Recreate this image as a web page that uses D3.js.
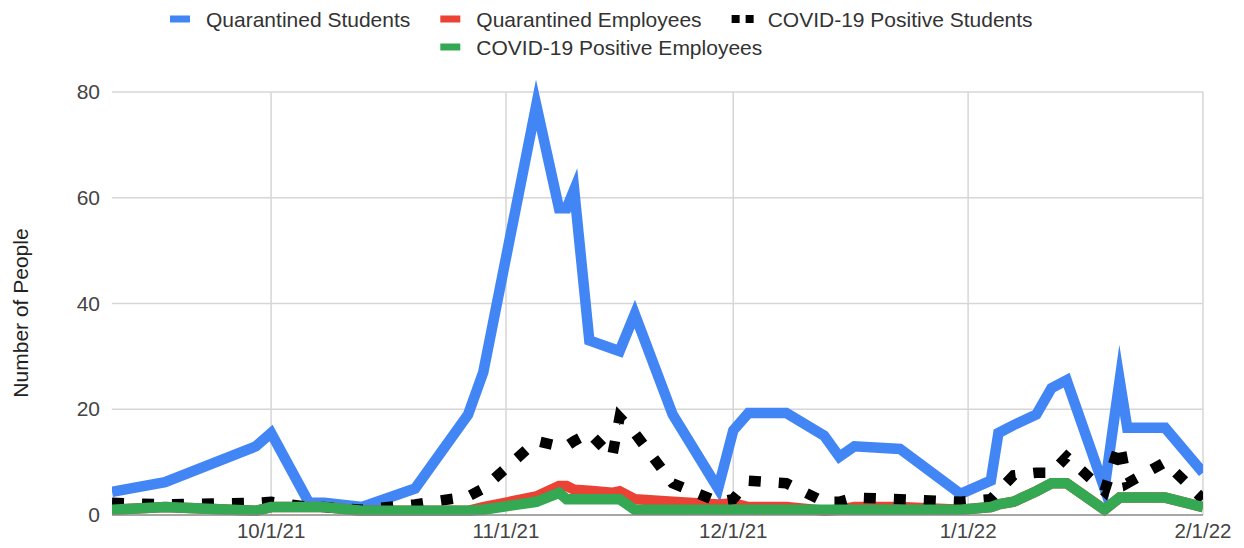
<!DOCTYPE html>
<html>
<head>
<meta charset="utf-8">
<script src="https://cdn.jsdelivr.net/npm/d3@7"></script>
<style>
  body { margin: 0; background: #fff; }
  svg { display: block; }
  text { font-family: "Liberation Sans", Arial, sans-serif; }
</style>
</head>
<body>
<svg id="chart" width="1244" height="548"></svg>
<script>
// ---- data ----
var dates = ['2021-09-10','2021-09-17','2021-09-29','2021-10-01','2021-10-06','2021-10-08','2021-10-13',
  '2021-10-20','2021-10-27','2021-10-29','2021-11-05','2021-11-08','2021-11-09','2021-11-10','2021-11-12',
  '2021-11-15','2021-11-16','2021-11-18','2021-11-23','2021-11-29','2021-12-01','2021-12-03','2021-12-08',
  '2021-12-13','2021-12-15','2021-12-17','2021-12-23','2021-12-31','2022-01-04','2022-01-05','2022-01-07',
  '2022-01-10','2022-01-12','2022-01-14','2022-01-19','2022-01-21','2022-01-22','2022-01-27','2022-02-01'];

var quarantinedStudents = [4.4, 6.2, 13, 15.5, 2.3, 2.3, 1.5, 5, 19, 27, 77.5, 58, 58, 61.5, 33,
  31.5, 31, 38, 19, 5, 16, 19.3, 19.3, 15, 11, 13, 12.5, 4, 6.5, 15.5, 17, 19, 24, 25.5, 5, 25.5, 16.5, 16.5, 8];

var quarantinedEmployees = [1, 1.5, 0.8, 1.5, 1.5, 1.5, 0.8, 0.8, 0.8, 1.5, 3.5, 5.5, 5.5, 4.8, 4.6,
  4.2, 4.5, 3, 2.5, 2, 2.2, 1.5, 1.5, 0.8, 1, 1.5, 1.5, 1, 1.5, 2, 2.5, 4.5, 6, 6, 1, 3.3, 3.3, 3.3, 1.5];

var positiveStudents = [2.3, 2, 2.3, 2.5, 1.5, 1.5, 1, 2, 3.5, 5, 14, 13, 13, 14, 15.5,
  11, 18.5, 15.5, 6, 2.5, 3, 6.5, 6, 2.5, 2.5, 3.3, 3, 2.5, 3, 4.5, 7.5, 8, 8, 11, 4.5, 13.5, 6, 10, 3];

var positiveEmployees = [1, 1.5, 0.8, 1.5, 1.5, 1.5, 0.8, 0.8, 0.8, 1, 2.5, 4.2, 3, 3, 3,
  3, 3, 1, 1, 1, 1, 1, 1, 1, 1, 1, 1, 1, 1.5, 2, 2.5, 4.5, 6, 6, 1, 3.3, 3.3, 3.3, 1.5];

var seriesNames = ['Quarantined Students', 'Quarantined Employees', 'COVID-19 Positive Students', 'COVID-19 Positive Employees'];
var seriesColors = ['#4285f4', '#ea4335', '#000000', '#34a853'];
var yTicks = [0, 20, 40, 60, 80];
var xTicks = ['2021-10-01', '2021-11-01', '2021-12-01', '2022-01-01', '2022-02-01'];
var xDomain = ['2021-09-10', '2022-02-01'];
var yTitle = 'Number of People';

(function() {
  var parse = d3.timeParse('%Y-%m-%d');
  var fmt = d3.timeFormat('%-m/%-d/%y');
  var plotLeft = 112, plotRight = 1203, plotTop = 92, plotBottom = 515;
  var svg = d3.select('#chart');

  var x = d3.scaleTime().domain(xDomain.map(parse)).range([plotLeft, plotRight]);
  var y = d3.scaleLinear().domain([0, 80]).range([plotBottom, plotTop]);

  var series = [quarantinedStudents, quarantinedEmployees, positiveStudents, positiveEmployees].map(function(vals, i) {
    return {
      name: seriesNames[i],
      color: seriesColors[i],
      dashed: i === 2,
      points: vals.map(function(v, j) { return { date: parse(dates[j]), value: v }; })
    };
  });

  // gridlines
  var grid = svg.append('g');
  grid.selectAll('line.h').data(yTicks.filter(function(t) { return t > 0; })).enter().append('line')
    .attr('x1', plotLeft).attr('x2', plotRight)
    .attr('y1', function(d) { return y(d); }).attr('y2', function(d) { return y(d); })
    .attr('stroke', '#d6d6d6').attr('stroke-width', 1.5);
  grid.selectAll('line.v').data(xTicks).enter().append('line')
    .attr('x1', function(d) { return x(parse(d)); }).attr('x2', function(d) { return x(parse(d)); })
    .attr('y1', plotTop).attr('y2', plotBottom)
    .attr('stroke', '#d6d6d6').attr('stroke-width', 1.5);

  // y tick labels
  svg.append('g').selectAll('text').data(yTicks).enter().append('text')
    .attr('x', 100).attr('y', function(d) { return y(d) + 7; })
    .attr('text-anchor', 'end').attr('font-size', 21).attr('fill', '#444')
    .text(function(d) { return d; });

  // x tick labels
  svg.append('g').selectAll('text').data(xTicks).enter().append('text')
    .attr('x', function(d) { return x(parse(d)); }).attr('y', 538)
    .attr('text-anchor', 'middle').attr('font-size', 20.5).attr('fill', '#444')
    .text(function(d) { return fmt(parse(d)); });

  // y title
  svg.append('text')
    .attr('transform', 'translate(28,313) rotate(-90)')
    .attr('text-anchor', 'middle').attr('font-size', 21).attr('fill', '#222')
    .text(yTitle);

  // lines, clipped to the plot horizontally
  svg.append('clipPath').attr('id', 'plotclip').append('rect')
    .attr('x', plotLeft).attr('y', 0).attr('width', plotRight - plotLeft).attr('height', 548);

  var line = d3.line()
    .x(function(d) { return x(d.date); })
    .y(function(d) { return y(d.value); });

  var lines = svg.append('g').attr('clip-path', 'url(#plotclip)');
  lines.selectAll('path').data(series).enter().append('path')
    .attr('d', function(d) { return line(d.points); })
    .attr('fill', 'none')
    .attr('stroke', function(d) { return d.color; })
    .attr('stroke-width', 10.5)
    .attr('stroke-miterlimit', 12)
    .attr('stroke-dasharray', function(d) { return d.dashed ? '12,18' : null; });

  // baseline
  svg.append('line')
    .attr('x1', plotLeft).attr('x2', plotRight).attr('y1', y(0)).attr('y2', y(0))
    .attr('stroke', '#888').attr('stroke-width', 1.5);

  // legend
  var legend = svg.append('g');
  var rowY = [19, 47];
  function addItem(s, px, row) {
    var g = legend.append('g').attr('transform', 'translate(' + px + ',' + rowY[row] + ')');
    if (s.dashed) {
      g.append('rect').attr('x', 0).attr('y', -4).attr('width', 8).attr('height', 8).attr('fill', s.color);
      g.append('rect').attr('x', 14).attr('y', -4).attr('width', 8).attr('height', 8).attr('fill', s.color);
    } else {
      g.append('rect').attr('x', 0).attr('y', -3.5).attr('width', 20).attr('height', 7).attr('fill', s.color);
    }
    var t = g.append('text').attr('x', 36).attr('y', 7.5)
      .attr('font-size', 21).attr('fill', '#333').text(s.name);
    return px + 36 + t.node().getComputedTextLength() + 30;
  }
  var nx = addItem(series[0], 170, 0);
  var secondX = nx;
  nx = addItem(series[1], nx, 0);
  addItem(series[2], nx, 0);
  addItem(series[3], secondX, 1);
})();
</script>
</body>
</html>
